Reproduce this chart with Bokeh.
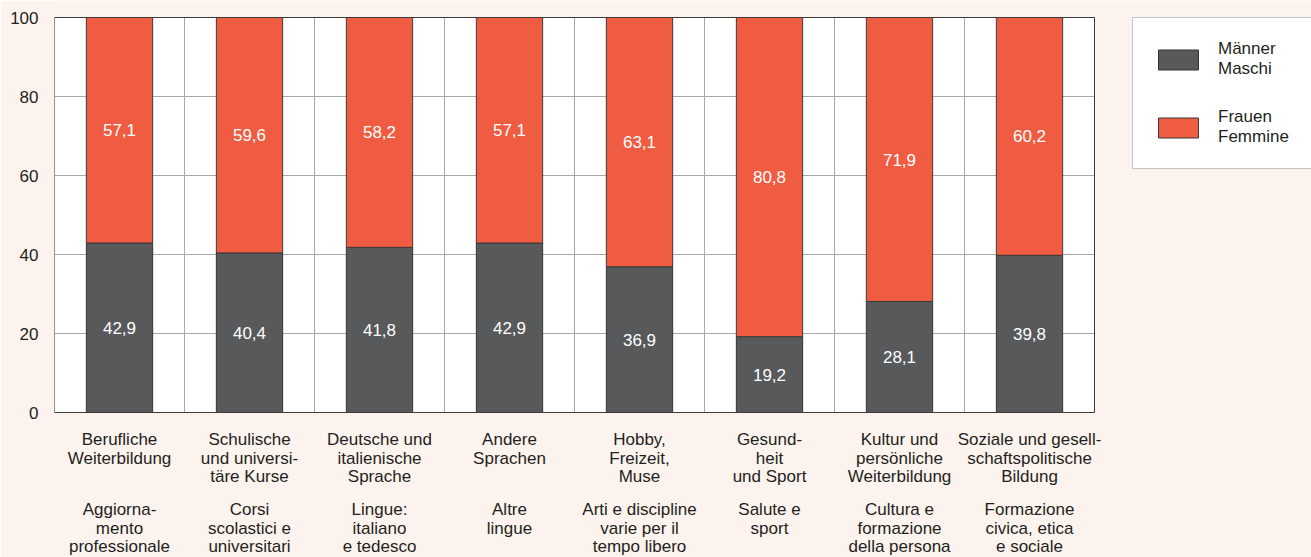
from bokeh.plotting import figure
from bokeh.models import ColumnDataSource, Range1d, FixedTicker, Legend, LegendItem
from bokeh.embed import file_html
from bokeh.resources import INLINE

cats_de = ["Berufliche\nWeiterbildung", "Schulische\nund universi-\ntäre Kurse",
           "Deutsche und\nitalienische\nSprache", "Andere\nSprachen",
           "Hobby,\nFreizeit,\nMuse", "Gesund-\nheit\nund Sport",
           "Kultur und\npersönliche\nWeiterbildung",
           "Soziale und gesell-\nschaftspolitische\nBildung"]
cats_it = ["Aggiorna-\nmento\nprofessionale", "Corsi\nscolastici e\nuniversitari",
           "Lingue:\nitaliano\ne tedesco", "Altre\nlingue",
           "Arti e discipline\nvarie per il\ntempo libero", "Salute e\nsport",
           "Cultura e\nformazione\ndella persona", "Formazione\ncivica, etica\ne sociale"]
men = [42.9, 40.4, 41.8, 42.9, 36.9, 19.2, 28.1, 39.8]
women = [57.1, 59.6, 58.2, 57.1, 63.1, 80.8, 71.9, 60.2]
y_ticks = [0, 20, 40, 60, 80, 100]
series_names = ["Männer\nMaschi", "Frauen\nFemmine"]

BG = "#fdf3ee"
RED = "#f05c42"
GREY = "#58595b"
FONT = "Liberation Sans"
TXT = "#231f20"
GRID = "#a8a8a8"

def fmt(v):
    return f"{v:.1f}".replace(".", ",")

n = len(men)
ymax = y_ticks[-1]
xs = [i + 0.5 for i in range(n)]
tops = [m + w for m, w in zip(men, women)]
src = ColumnDataSource(dict(
    x=xs, men=men, tops=tops, zero=[0] * n,
    men_mid=[m / 2 for m in men],
    women_mid=[m + w / 2 for m, w in zip(men, women)],
    men_lbl=[fmt(v) for v in men], women_lbl=[fmt(v) for v in women],
    de=cats_de, it=cats_it,
))

# canvas 1311 x 557; plot area spans x 54..1094, y 17..412 (pixels)
W, H = 1311, 557
L, R, T, B = 54, 1094, 17, 412
ppx = (R - L) / n
ppy = (B - T) / ymax
p = figure(width=W, height=H, output_backend="svg", toolbar_location=None,
           x_range=Range1d(0, (W - L) / ppx),
           y_range=Range1d(-(H - B) / ppy, ymax + T / ppy),
           min_border_left=L, min_border_right=0, min_border_top=0, min_border_bottom=0)
p.background_fill_color = BG
p.border_fill_color = BG
p.outline_line_color = None
p.grid.visible = False

p.xaxis.visible = False
p.yaxis.ticker = FixedTicker(ticks=y_ticks)
p.yaxis.bounds = (0, ymax)
p.yaxis.major_tick_line_color = None
p.yaxis.major_tick_out = 0
p.yaxis.major_tick_in = 0
p.yaxis.minor_tick_line_color = None
p.yaxis.axis_line_color = None
p.yaxis.major_label_text_font = FONT
p.yaxis.major_label_text_font_size = "17px"
p.yaxis.major_label_text_color = TXT
p.yaxis.major_label_standoff = 16

# plot area background and grid
p.quad(left=[0], right=[n], bottom=[0], top=[ymax], fill_color="white", line_color=None)
inner = y_ticks[1:-1]
p.segment(x0=[0] * len(inner), x1=[n] * len(inner), y0=inner, y1=inner,
          line_color=GRID, line_width=1)
vx = list(range(1, n))
p.segment(x0=vx, x1=vx, y0=[0] * len(vx), y1=[ymax] * len(vx),
          line_color=GRID, line_width=1)

r_men = p.vbar(x="x", width=0.51, bottom="zero", top="men", source=src,
               fill_color=GREY, line_color="#333333", line_width=1)
r_women = p.vbar(x="x", width=0.51, bottom="men", top="tops", source=src,
                 fill_color=RED, line_color="#3a3a3a", line_width=1)

# frame border
p.quad(left=[0], right=[n], bottom=[0], top=[ymax], fill_color=None,
       line_color="#3a3a3a", line_width=1)
p.segment(x0=[0], x1=[0], y0=[0], y1=[ymax], line_color="#8a8a8a", line_width=1)

p.text(x="x", y="men_mid", text="men_lbl", source=src, text_color="white",
       text_align="center", text_baseline="middle", text_font_size="17px",
       text_font={"value": FONT})
p.text(x="x", y="women_mid", text="women_lbl", source=src, text_color="white",
       text_align="center", text_baseline="middle", text_font_size="17px",
       text_font={"value": FONT})

# category labels (German, then Italian) below the plot
LH = 0.975
p.text(x="x", y=-17.5 / ppy, text="de", source=src, text_color=TXT,
       text_align="center", text_baseline="top", text_font_size="17px",
       text_font={"value": FONT}, text_line_height=LH)
p.text(x="x", y=-87.5 / ppy, text="it", source=src, text_color=TXT,
       text_align="center", text_baseline="top", text_font_size="17px",
       text_font={"value": FONT}, text_line_height=LH)

legend = Legend(items=[LegendItem(label=series_names[0], renderers=[r_men]),
                       LegendItem(label=series_names[1], renderers=[r_women])],
                location=(1132 - L, H - 169), orientation="vertical")
legend.glyph_width = 50
legend.glyph_height = 25
legend.label_standoff = 15
legend.label_width = 120
legend.label_height = 42
legend.spacing = 26
legend.padding = 20
legend.margin = 0
legend.border_line_color = "#8a8a8a"
legend.border_line_width = 1
legend.background_fill_color = "white"
legend.background_fill_alpha = 1
legend.label_text_font = FONT
legend.label_text_font_size = "17px"
legend.label_text_color = TXT
legend.label_text_line_height = 1.05
p.add_layout(legend, "center")

open("out.html", "w").write(file_html(p, INLINE))
